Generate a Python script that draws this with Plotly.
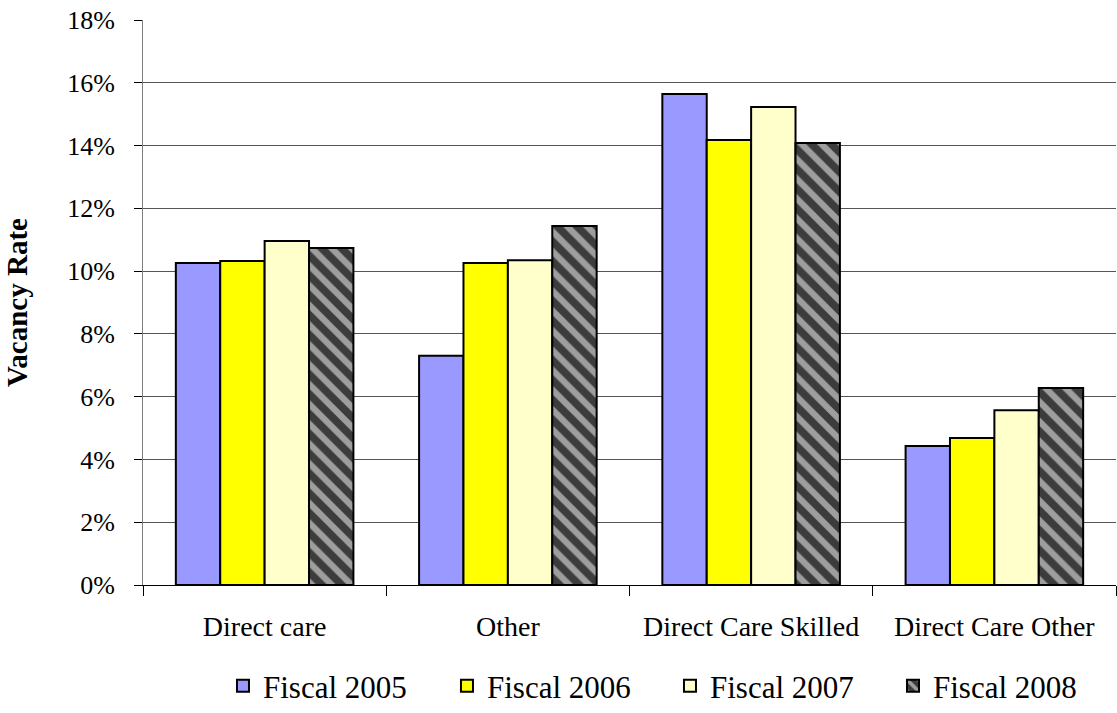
import plotly.graph_objects as go

categories = ["Direct care", "Other", "Direct Care Skilled", "Direct Care Other"]
fiscal_2005 = [0.1026, 0.0730, 0.1564, 0.0443]
fiscal_2006 = [0.1032, 0.1026, 0.1418, 0.0468]
fiscal_2007 = [0.1096, 0.1035, 0.1523, 0.0557]
fiscal_2008 = [0.1074, 0.1144, 0.1408, 0.0628]
tick_values = [0, 0.02, 0.04, 0.06, 0.08, 0.10, 0.12, 0.14, 0.16, 0.18]

font_family = "Liberation Serif, Times New Roman, serif"
outline = dict(color="black", width=2)

fig = go.Figure()
fig.add_trace(go.Bar(name="Fiscal 2005", x=categories, y=fiscal_2005,
                     legend="legend",
                     marker=dict(color="#9999FF", line=outline)))
fig.add_trace(go.Bar(name="Fiscal 2006", x=categories, y=fiscal_2006,
                     legend="legend2",
                     marker=dict(color="#FFFF00", line=outline)))
fig.add_trace(go.Bar(name="Fiscal 2007", x=categories, y=fiscal_2007,
                     legend="legend3",
                     marker=dict(color="#FFFFCC", line=outline)))
fig.add_trace(go.Bar(name="Fiscal 2008", x=categories, y=fiscal_2008,
                     legend="legend4",
                     marker=dict(color="#3C3C3C", line=outline,
                                 pattern=dict(shape="\\", fgcolor="white",
                                              size=14, solidity=0.45))))

# one single-entry legend per series so the entries sit on an even grid
legend_x = [0.0822, 0.3124, 0.5416, 0.7708]


def legend_box(x):
    return dict(orientation="h", x=x, xanchor="left",
                y=-0.011, yref="container", yanchor="bottom",
                font=dict(size=31), itemwidth=30, bgcolor="rgba(0,0,0,0)")


fig.update_layout(
    width=1117, height=713,
    margin=dict(l=143, r=1, t=20, b=128),
    paper_bgcolor="white", plot_bgcolor="white",
    font=dict(family=font_family, size=26, color="black"),
    barmode="group", bargap=0.27, bargroupgap=0,
    showlegend=True,
    legend=legend_box(legend_x[0]),
    legend2=legend_box(legend_x[1]),
    legend3=legend_box(legend_x[2]),
    legend4=legend_box(legend_x[3]),
    xaxis=dict(type="category", showline=True, linecolor="black", linewidth=1,
               ticks="outside", tickson="boundaries", ticklen=10,
               tickcolor="black", showgrid=False, ticklabelstandoff=16,
               tickfont=dict(size=28)),
    yaxis=dict(range=[0, 0.18], tickvals=tick_values, tickformat=".0%",
               showline=True, linecolor="#808080", linewidth=1,
               ticks="outside", ticklen=8, tickcolor="black",
               ticklabelstandoff=14,
               showgrid=True, gridcolor="#555555", gridwidth=1,
               tickfont=dict(size=26),
               title=dict(text="<b>Vacancy Rate</b>", font=dict(size=29),
                          standoff=30)),
)

fig.write_html("out.html")
